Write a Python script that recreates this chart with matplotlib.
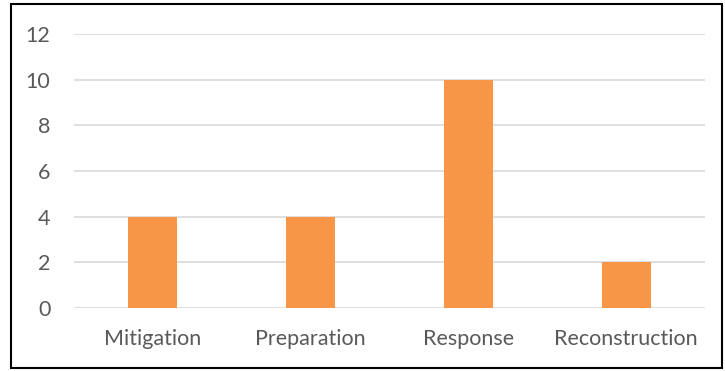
import matplotlib
matplotlib.use('Agg')
import matplotlib.pyplot as plt
from matplotlib.patches import Rectangle

phases = ['Mitigation', 'Preparation', 'Response', 'Reconstruction']
counts = [4, 4, 10, 2]
y_ticks = [0, 2, 4, 6, 8, 10, 12]

plt.rcParams['font.family'] = ['Lato', 'DejaVu Sans']

fig = plt.figure(figsize=(7.25, 3.71), dpi=100)
ax = fig.add_axes([74/725, 1 - 308/371, 631/725, 274/371])

x = range(len(phases))
ax.bar(x, counts, width=0.31, color='#F79646', zorder=3)

ax.set_xlim(-0.5, len(phases) - 0.5)
ax.set_ylim(0, 12)
ax.set_yticks(y_ticks)
ax.set_xticks(list(x))
ax.set_xticklabels(phases)
ax.grid(axis='y', color='#D9D9D9', linewidth=1.2, zorder=0)
ax.set_axisbelow(True)
for s in ax.spines.values():
    s.set_visible(False)
ax.tick_params(axis='both', length=0, labelsize=15.5, labelcolor='#595959')
ax.tick_params(axis='y', pad=17)
ax.tick_params(axis='x', pad=15)

# black frame around the whole chart
fig.patches.append(Rectangle((11/725, 3/371), 711/725, 364/371, transform=fig.transFigure,
                             fill=False, edgecolor='black', linewidth=1.5))

fig.savefig('out.png', dpi=100)
